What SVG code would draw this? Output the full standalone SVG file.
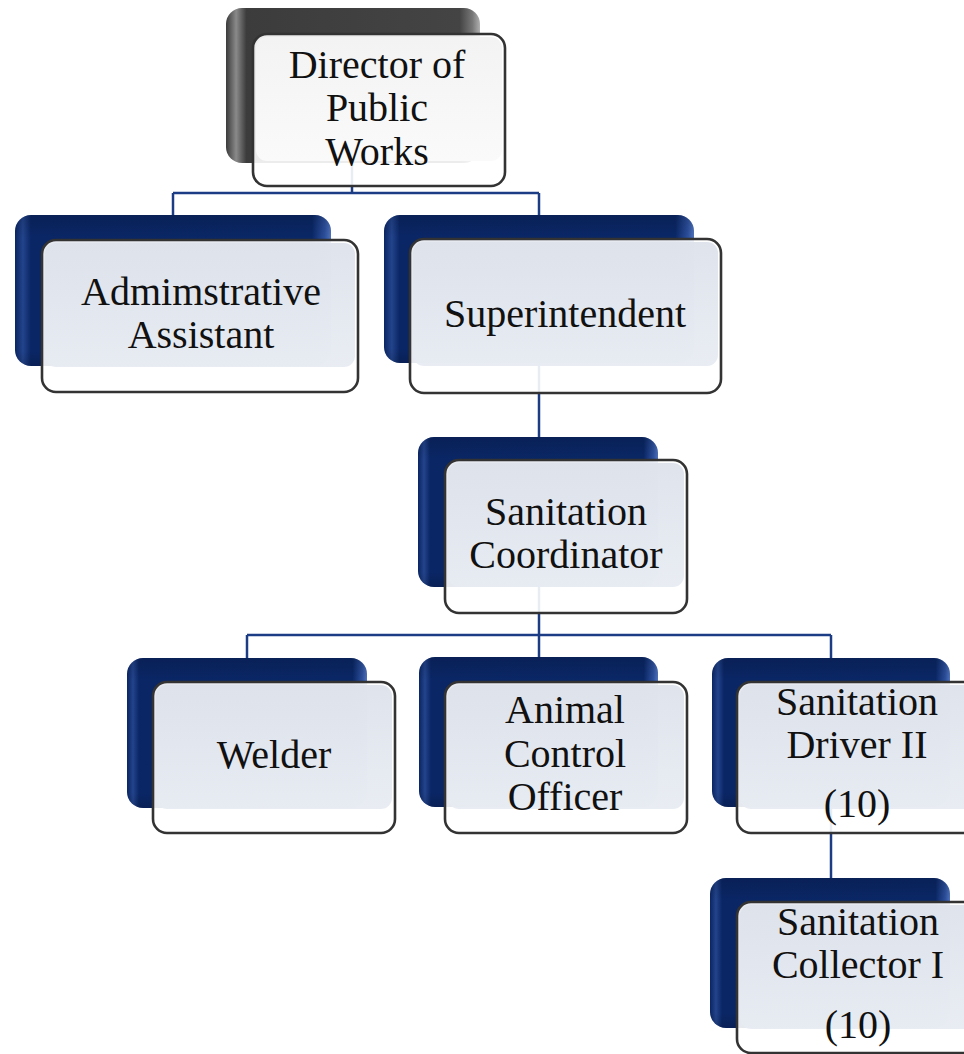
<svg xmlns="http://www.w3.org/2000/svg" width="964" height="1054" viewBox="0 0 964 1054">
  <defs>
    <linearGradient id="navyBack" x1="0" y1="0" x2="1" y2="0">
      <stop offset="0" stop-color="#0a2562"/>
      <stop offset="0.025" stop-color="#23448c"/>
      <stop offset="0.05" stop-color="#0a2665"/>
      <stop offset="0.94" stop-color="#0a2766"/>
      <stop offset="0.98" stop-color="#2c4f9c"/>
      <stop offset="1" stop-color="#4f72bb"/>
    </linearGradient>
    <linearGradient id="navyShade" x1="0" y1="0" x2="0" y2="1">
      <stop offset="0" stop-color="#000" stop-opacity="0.15"/>
      <stop offset="0.15" stop-color="#000" stop-opacity="0"/>
      <stop offset="0.9" stop-color="#000" stop-opacity="0"/>
      <stop offset="1" stop-color="#000" stop-opacity="0.15"/>
    </linearGradient>
    <linearGradient id="grayBack" x1="0" y1="0" x2="1" y2="0">
      <stop offset="0" stop-color="#3a3a3a"/>
      <stop offset="0.04" stop-color="#8a8a8a"/>
      <stop offset="0.08" stop-color="#3c3c3c"/>
      <stop offset="0.92" stop-color="#444"/>
      <stop offset="0.97" stop-color="#777"/>
      <stop offset="1" stop-color="#b0b0b0"/>
    </linearGradient>
    <linearGradient id="faceBlue" x1="0" y1="0" x2="0" y2="1">
      <stop offset="0" stop-color="#dde2eb"/>
      <stop offset="1" stop-color="#e7ebf2"/>
    </linearGradient>
    <linearGradient id="faceWhite" x1="0" y1="0" x2="0" y2="1">
      <stop offset="0" stop-color="#f3f3f3"/>
      <stop offset="1" stop-color="#fafafa"/>
    </linearGradient>
  </defs>
  <style>
    .back { fill: url(#navyBack); }
    .shade { fill: url(#navyShade); }
    .backGray { fill: url(#grayBack); }
    .front { fill: #ffffff; fill-opacity: 0.9; stroke: #333333; stroke-width: 2.6; }
    .face { fill: url(#faceBlue); fill-opacity: 0.93; }
    .faceW { fill: url(#faceWhite); }
    .label { font-family: "Liberation Serif", "Times New Roman", serif; font-size: 40px; fill: #111; text-anchor: middle; }
    .link { fill: none; stroke: #1d3c86; stroke-width: 2.5; }
  </style>
  <rect width="964" height="1054" fill="#ffffff"/>

  <!-- reporting lines -->
  <g id="connectors">
    <path class="link" d="M352 160 V193"/>
    <path class="link" d="M173 193 H539"/>
    <path class="link" d="M173 193 V216"/>
    <path class="link" d="M539 193 V216"/>
    <path class="link" d="M539 362 V438"/>
    <path class="link" d="M539 586 V635"/>
    <path class="link" d="M247 635 H831"/>
    <path class="link" d="M247 635 V659"/>
    <path class="link" d="M539 635 V659"/>
    <path class="link" d="M831 635 V659"/>
    <path class="link" d="M831 806 V879"/>
  </g>

  <g id="director">
    <rect class="backGray" x="226" y="8" width="254" height="155" rx="16"/>
    <rect class="front" x="253" y="34" width="252" height="152" rx="14"/>
    <rect class="faceW" x="256" y="37" width="246" height="124" rx="11"/>
    <text class="label" x="377" y="78">Director of</text>
    <text class="label" x="377" y="121">Public</text>
    <text class="label" x="377" y="165">Works</text>
  </g>

  <g id="admin-assistant">
    <rect class="back" x="15" y="215" width="316" height="151" rx="16"/>
    <rect class="shade" x="15" y="215" width="316" height="151" rx="16"/>
    <rect class="front" x="42" y="240" width="316" height="152" rx="14"/>
    <rect class="face" x="45" y="243" width="310" height="124" rx="11"/>
    <text class="label" x="201" y="305">Admimstrative</text>
    <text class="label" x="201" y="348">Assistant</text>
  </g>

  <g id="superintendent">
    <rect class="back" x="384" y="215" width="310" height="148" rx="16"/>
    <rect class="shade" x="384" y="215" width="310" height="148" rx="16"/>
    <rect class="front" x="410" y="239" width="311" height="154" rx="14"/>
    <rect class="face" x="413" y="242" width="305" height="124" rx="11"/>
    <text class="label" x="565" y="327">Superintendent</text>
  </g>

  <g id="sanitation-coordinator">
    <rect class="back" x="418" y="437" width="240" height="150" rx="16"/>
    <rect class="shade" x="418" y="437" width="240" height="150" rx="16"/>
    <rect class="front" x="445" y="460" width="242" height="153" rx="14"/>
    <rect class="face" x="448" y="463" width="236" height="124" rx="11"/>
    <text class="label" x="566" y="525">Sanitation</text>
    <text class="label" x="566" y="568">Coordinator</text>
  </g>

  <g id="welder">
    <rect class="back" x="127" y="658" width="240" height="150" rx="16"/>
    <rect class="shade" x="127" y="658" width="240" height="150" rx="16"/>
    <rect class="front" x="153" y="682" width="242" height="151" rx="14"/>
    <rect class="face" x="156" y="685" width="236" height="124" rx="11"/>
    <text class="label" x="274" y="768">Welder</text>
  </g>

  <g id="animal-control-officer">
    <rect class="back" x="419" y="657" width="239" height="150" rx="16"/>
    <rect class="shade" x="419" y="657" width="239" height="150" rx="16"/>
    <rect class="front" x="445" y="682" width="242" height="151" rx="14"/>
    <rect class="face" x="448" y="685" width="236" height="124" rx="11"/>
    <text class="label" x="565" y="723">Animal</text>
    <text class="label" x="565" y="767">Control</text>
    <text class="label" x="565" y="810">Officer</text>
  </g>

  <g id="sanitation-driver">
    <rect class="back" x="712" y="658" width="238" height="149" rx="16"/>
    <rect class="shade" x="712" y="658" width="238" height="149" rx="16"/>
    <rect class="front" x="737" y="682" width="242" height="151" rx="14"/>
    <rect class="face" x="740" y="685" width="236" height="124" rx="11"/>
    <text class="label" x="857" y="715">Sanitation</text>
    <text class="label" x="857" y="758">Driver II</text>
    <text class="label" x="857" y="817">(10)</text>
  </g>

  <g id="sanitation-collector">
    <rect class="back" x="710" y="878" width="240" height="150" rx="16"/>
    <rect class="shade" x="710" y="878" width="240" height="150" rx="16"/>
    <rect class="front" x="737" y="902" width="242" height="151" rx="14"/>
    <rect class="face" x="740" y="905" width="236" height="124" rx="11"/>
    <text class="label" x="858" y="935">Sanitation</text>
    <text class="label" x="858" y="978">Collector I</text>
    <text class="label" x="858" y="1038">(10)</text>
  </g>
</svg>
